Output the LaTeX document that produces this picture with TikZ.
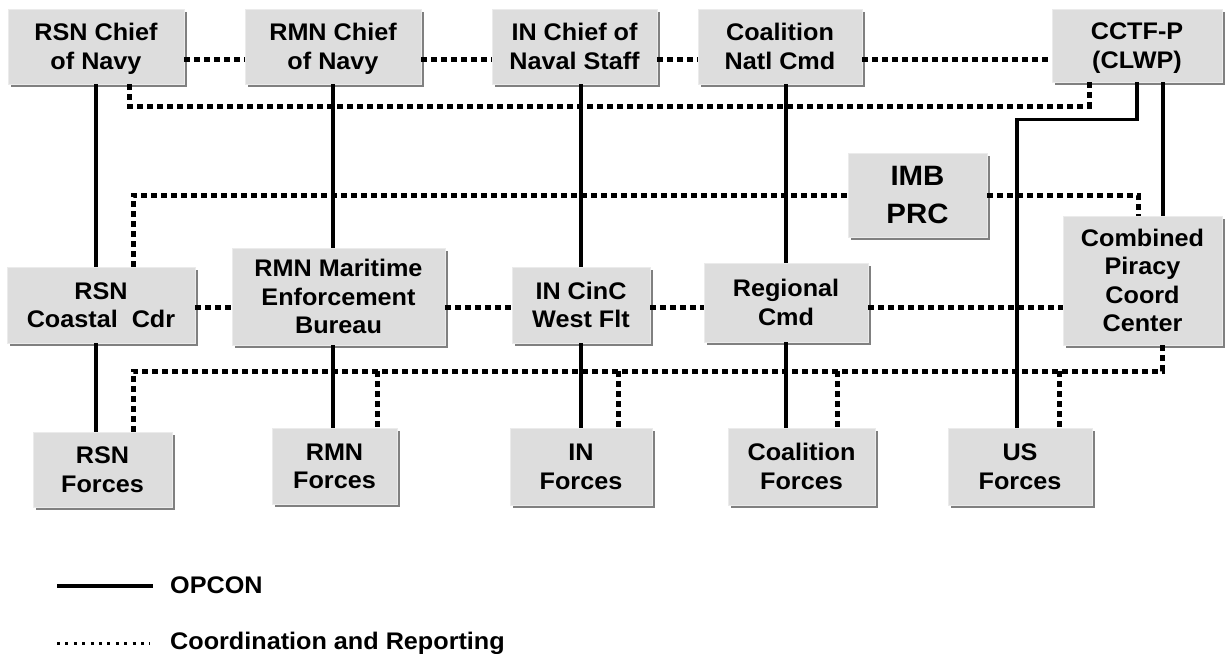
\documentclass[tikz,border=0pt]{standalone}
\usepackage{fontspec}
\setmainfont{Liberation Sans}[FakeStretch=1.05]
\usepackage{tikz}
\usetikzlibrary{shadows}
\definecolor{boxgray}{RGB}{221,221,221}
\definecolor{shadegray}{RGB}{128,128,128}

\begin{document}
\begin{tikzpicture}[
  x=1pt,y=-1pt,
  font=\fontsize{24}{28.5}\selectfont\bfseries,
  box/.style={fill=boxgray,draw=white!92!black,line width=0.8pt,align=center,inner sep=2pt,text depth=0pt,
    drop shadow={shadow xshift=3pt,shadow yshift=-3pt,fill=shadegray,opacity=1}},
  imbbox/.style={box,font=\fontsize{28}{37.5}\selectfont\bfseries},
  ctrl/.style={line width=3.5pt},
  rep/.style={line width=5pt,dash pattern=on 6pt off 4pt},
  legrep/.style={line width=3pt,dash pattern=on 3pt off 5.4pt},
  legtext/.style={anchor=base west,inner sep=0pt}
]
\useasboundingbox (0,0) rectangle (1225,653);

% national commands
\node[box,minimum width=176pt,minimum height=75pt] (rsnchief) at (96,46.5) {RSN Chief\\of Navy};
\node[box,minimum width=176pt,minimum height=75pt] (rmnchief) at (333,46.5) {RMN Chief\\of Navy};
\node[box,minimum width=165pt,minimum height=75pt] (inchief) at (574.5,46.5) {IN Chief of\\Naval Staff};
\node[box,minimum width=164pt,minimum height=75pt] (coalnat) at (780,46.5) {Coalition\\Natl Cmd};
\node[box,minimum width=170pt,minimum height=73pt] (cctf) at (1137,45.5) {CCTF-P\\(CLWP)};

\node[imbbox,minimum width=139pt,minimum height=84pt] (imb) at (917.5,195) {IMB\\PRC};

% operational commands
\node[box,minimum width=188pt,minimum height=76pt] (rsncoast) at (101,305) {RSN\\Coastal~ Cdr};
\node[box,minimum width=213pt,minimum height=97pt] (rmnmeb) at (338.5,296.5) {RMN Maritime\\Enforcement\\Bureau};
\node[box,minimum width=138pt,minimum height=76pt] (incinc) at (581,305) {IN CinC\\West Flt};
\node[box,minimum width=164pt,minimum height=79pt] (regional) at (786,302.5) {Regional\\Cmd};
\node[box,minimum width=159pt,minimum height=129pt] (cpcc) at (1142.5,280.5) {Combined\\Piracy\\Coord\\Center};

% forces
\node[box,minimum width=139pt,minimum height=75pt] (rsnfor) at (102.5,469.5) {RSN\\Forces};
\node[box,minimum width=125pt,minimum height=76pt] (rmnfor) at (334.5,466) {RMN\\Forces};
\node[box,minimum width=142pt,minimum height=77pt] (infor) at (581,466.5) {IN\\Forces};
\node[box,minimum width=147pt,minimum height=77pt] (coalfor) at (801.5,466.5) {Coalition\\Forces};
\node[box,minimum width=144pt,minimum height=77pt] (usfor) at (1020,466.5) {US\\Forces};

\coordinate (r1) at (0,59.5);
\coordinate (r2) at (0,307.5);
\coordinate (r3) at (0,106);
\coordinate (bus) at (0,371);

% OPCON
\foreach \t/\m/\b/\c in {rsnchief/rsncoast/rsnfor/rsnchief,rmnchief/rmnmeb/rmnfor/rmnchief,
    inchief/incinc/infor/incinc,coalnat/regional/coalfor/regional}{
  \draw[ctrl] (\t.south -| \c) -- (\m.north -| \c);
  \draw[ctrl] (\m.south -| \c) -- (\b.north -| \c);
}
\path ([xshift=20.5pt]cpcc.north) coordinate (cpin);
\draw[ctrl] (cctf.south -| cpin) -- (cpin);
\draw[ctrl] (cctf.south) -- ++(0,37) -| ([xshift=-3pt]usfor.north);

% coordination and reporting
\foreach \a/\b in {rsnchief/rmnchief,rmnchief/inchief,inchief/coalnat,coalnat/cctf}
  \draw[rep] (\a.east |- r1) -- (\b.west |- r1);
\foreach \a/\b in {rsncoast/rmnmeb,rmnmeb/incinc,incinc/regional,regional/cpcc}
  \draw[rep] (\a.east |- r2) -- (\b.west |- r2);
\draw[rep] ([xshift=33pt]rsnchief.south) -- ([xshift=33pt]rsnchief.south |- r3) -| ([xshift=-48pt]cctf.south);
\draw[rep] ([xshift=32pt]rsncoast.north) |- (imb.west);
\draw[rep] (imb.east) -| ([xshift=-4.5pt]cpcc.north);
\draw[rep] ([xshift=19.5pt]cpcc.south) -- ([xshift=19.5pt]cpcc.south |- bus)
  -- ([xshift=30.5pt]rsnfor.north |- bus) -- ([xshift=30.5pt]rsnfor.north);
\foreach \n/\dx in {rmnfor/42.5,infor/37,coalfor/35.5,usfor/39}
  \draw[rep] ([xshift=\dx pt]\n.north |- bus) -- ([xshift=\dx pt]\n.north);

% legend
\node[legtext] (lopcon) at (170,593) {OPCON};
\node[legtext] (lrep) at (170,649) {Coordination and Reporting};
\draw[ctrl] ([xshift=-113pt,yshift=7pt]lopcon.base west) -- ([xshift=-17pt,yshift=7pt]lopcon.base west);
\draw[legrep] ([xshift=-113pt,yshift=6pt]lrep.base west) -- ([xshift=-20pt,yshift=6pt]lrep.base west);
\end{tikzpicture}
\end{document}
